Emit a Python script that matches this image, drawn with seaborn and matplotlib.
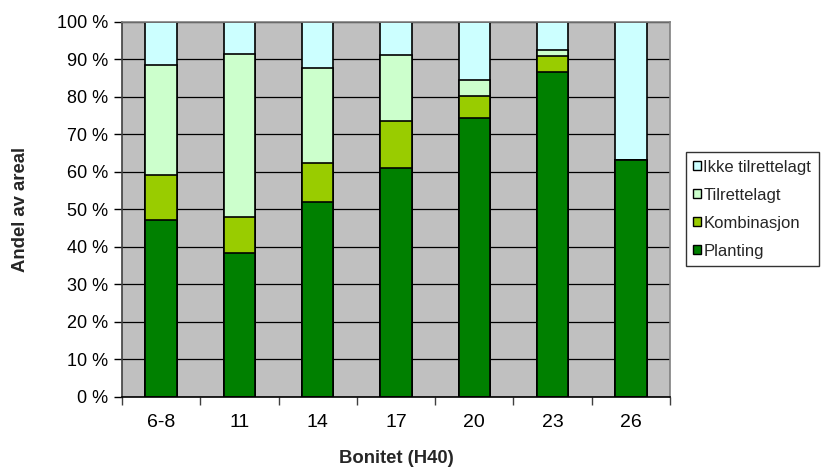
import matplotlib
matplotlib.use("Agg")
import matplotlib.pyplot as plt
from matplotlib.patches import Patch
from matplotlib.ticker import FixedLocator, FuncFormatter
import numpy as np
import pandas as pd
import seaborn as sns

# Andel av areal (%) per bonitetsklasse
bonitet = ["6-8", "11", "14", "17", "20", "23", "26"]
planting = [47.3, 38.3, 51.9, 61.1, 74.4, 86.7, 63.3]
kombinasjon = [12.0, 9.7, 10.6, 12.6, 5.8, 4.2, 0.0]
tilrettelagt = [29.3, 43.5, 25.1, 17.5, 4.3, 1.5, 0.0]
ikke_tilrettelagt = [11.4, 8.5, 12.4, 8.8, 15.5, 7.6, 36.7]

series = [
    ("Planting", planting, "#008000"),
    ("Kombinasjon", kombinasjon, "#99CC00"),
    ("Tilrettelagt", tilrettelagt, "#CCFFCC"),
    ("Ikke tilrettelagt", ikke_tilrettelagt, "#CCFFFF"),
]

sns.set_theme(style="white")
plt.rcParams["font.family"] = ["Liberation Sans", "DejaVu Sans"]

fig = plt.figure(figsize=(8.22, 4.67), dpi=100)
ax = fig.add_axes([0.1484, 0.1499, 0.8151 - 0.1484, 0.9529 - 0.1499])
ax.set_facecolor("#C0C0C0")

# cumulative tops, drawn from the top layer down so each stack reads correctly
cum = np.cumsum(np.array([s[1] for s in series]), axis=0)
for i in range(len(series) - 1, -1, -1):
    name, vals, color = series[i]
    df = pd.DataFrame({"Bonitet": bonitet, "top": cum[i]})
    sns.barplot(data=df, x="Bonitet", y="top", order=bonitet, color=color,
                width=0.4, edgecolor="black", linewidth=1.2, saturation=1,
                ax=ax, zorder=3 + (len(series) - i) * 0.01)

ax.set_xlim(-0.5, len(bonitet) - 0.5)
ax.set_ylim(0, 100)
ax.yaxis.set_major_locator(FixedLocator(np.arange(0, 101, 10)))
ax.yaxis.set_major_formatter(FuncFormatter(lambda v, p: f"{int(v)} %"))
ax.yaxis.grid(True, color="black", linewidth=0.9, zorder=1)
ax.set_axisbelow(True)

# category boundaries carry the tick marks
ax.xaxis.set_minor_locator(FixedLocator(np.arange(-0.5, len(bonitet), 1.0)))
ax.tick_params(axis="x", which="major", length=0, pad=12, labelsize=14, colors="black")
ax.tick_params(axis="x", which="minor", length=6, width=1, color="#404040", direction="out", bottom=True)
ax.tick_params(axis="y", which="major", length=6, width=1, color="black", direction="out",
               left=True, labelsize=13, pad=4, labelcolor="black")

for side in ["top", "right"]:
    ax.spines[side].set_color("#808080")
    ax.spines[side].set_linewidth(1.2)
ax.spines["left"].set_color("#404040")
ax.spines["left"].set_linewidth(1.2)
ax.spines["bottom"].set_color("black")
ax.spines["bottom"].set_linewidth(1.2)
for s in ax.spines.values():
    s.set_visible(True)
    s.set_zorder(5)

ax.set_xlabel("Bonitet (H40)", fontsize=13.3, fontweight="bold", labelpad=14)
ax.set_ylabel("Andel av areal", fontsize=13.3, fontweight="bold", labelpad=20)

handles = [Patch(facecolor=c, edgecolor="black", linewidth=1, label=n)
           for n, v, c in reversed(series)]
leg = fig.legend(handles=handles, loc="upper left",
                 bbox_to_anchor=(0.8345, 0.674), frameon=True, fancybox=False,
                 fontsize=12, handlelength=0.45, handleheight=0.45,
                 handletextpad=0.15, labelspacing=0.78, borderpad=0.45,
                 borderaxespad=0)
leg.get_frame().set_edgecolor("black")
leg.get_frame().set_linewidth(1.0)

fig.savefig("out.png", dpi=100)
